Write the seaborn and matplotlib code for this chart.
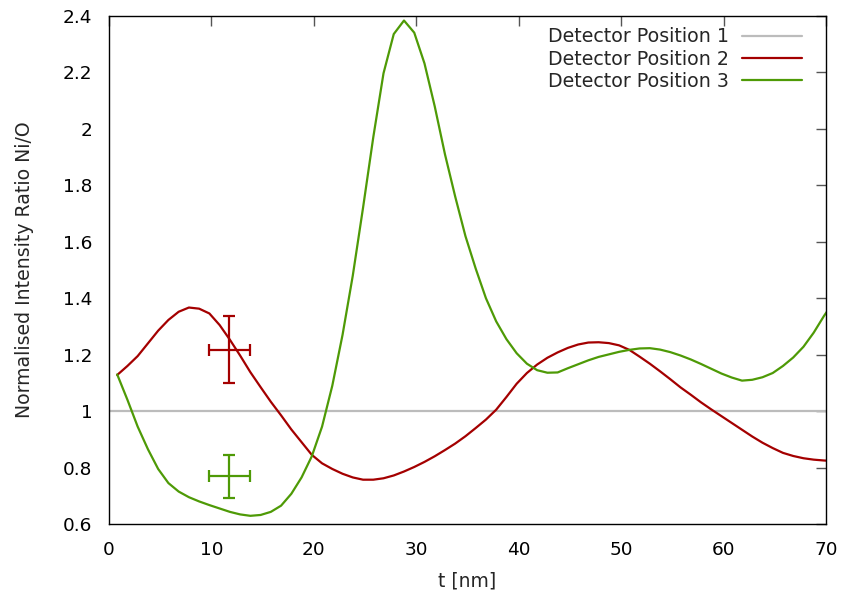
import numpy as np
import pandas as pd
import matplotlib
matplotlib.use("Agg")
import matplotlib.pyplot as plt
from matplotlib.ticker import FuncFormatter, FixedLocator
import seaborn as sns

# Sampling grid of the simulated depth profiles (nm)
t_nm = [0.8 + k for k in range(71)]

# Detector position 2
ratio_pos2 = [
    1.128, 1.160, 1.195, 1.240, 1.285, 1.323, 1.352, 1.367, 1.363, 1.346,
    1.305, 1.253, 1.197, 1.138, 1.085, 1.033, 0.985, 0.935, 0.890, 0.845,
    0.815, 0.795, 0.778, 0.765, 0.757, 0.757, 0.762, 0.772, 0.786, 0.802,
    0.820, 0.840, 0.862, 0.885, 0.911, 0.940, 0.970, 1.005, 1.050, 1.097,
    1.135, 1.165, 1.189, 1.208, 1.224, 1.236, 1.243, 1.244, 1.241, 1.233,
    1.217, 1.193, 1.168, 1.141, 1.113, 1.084, 1.058, 1.031, 1.006, 0.982,
    0.958, 0.934, 0.910, 0.888, 0.869, 0.852, 0.841, 0.833, 0.828, 0.825,
    0.823,
]

# Detector position 3
ratio_pos3 = [
    1.130, 1.040, 0.945, 0.865, 0.795, 0.745, 0.715, 0.695, 0.680, 0.667,
    0.655, 0.643, 0.634, 0.629, 0.632, 0.643, 0.665, 0.707, 0.765, 0.840,
    0.945, 1.090, 1.270, 1.480, 1.720, 1.970, 2.197, 2.336, 2.384, 2.341,
    2.232, 2.080, 1.910, 1.760, 1.620, 1.505, 1.400, 1.318, 1.255, 1.205,
    1.168, 1.145, 1.136, 1.137, 1.152, 1.166, 1.180, 1.192, 1.201, 1.210,
    1.217, 1.222, 1.223, 1.218, 1.209, 1.197, 1.183, 1.167, 1.150, 1.133,
    1.119, 1.108, 1.111, 1.120, 1.135, 1.160, 1.190, 1.228, 1.278, 1.337,
    1.390,
]

# Detector position 1 (reference level)
t_ref = [0.0, 70.0]
ratio_ref = [1.0, 1.0]

# Measured points with uncertainties
meas_t = [11.75, 11.75]
meas_ratio = [1.218, 0.769]
meas_dt = [2.0, 2.0]
meas_dratio = [0.119, 0.077]

labels = ["Detector Position 1", "Detector Position 2", "Detector Position 3"]
colors = ["#bcbcbc", "#a40000", "#4e9a06"]

df = pd.concat([
    pd.DataFrame({"t": t_ref, "ratio": ratio_ref, "series": labels[0]}),
    pd.DataFrame({"t": t_nm, "ratio": ratio_pos2, "series": labels[1]}),
    pd.DataFrame({"t": t_nm, "ratio": ratio_pos3, "series": labels[2]}),
], ignore_index=True)

sns.set_style("white")
plt.rcParams["font.family"] = ["DejaVu Sans"]

fig = plt.figure(figsize=(8.43, 5.94), dpi=100)
ax = fig.add_axes([109 / 843, 1 - 524 / 594, 717 / 843, 508 / 594])

sns.lineplot(data=df, x="t", y="ratio", hue="series", hue_order=labels,
             palette=dict(zip(labels, colors)), linewidth=1.6, ax=ax,
             estimator=None, sort=False)

for i in range(2):
    ax.errorbar(meas_t[i], meas_ratio[i], xerr=meas_dt[i], yerr=meas_dratio[i],
                color=colors[i + 1], linewidth=1.6, capsize=4.5, capthick=1.6,
                fmt="none", zorder=5)

ax.set_xlim(0, 70)
ax.set_ylim(0.6, 2.4)
ax.xaxis.set_major_locator(FixedLocator(np.arange(0, 71, 10)))
ax.yaxis.set_major_locator(FixedLocator(np.round(np.arange(0.6, 2.41, 0.2), 1)))
fmt = FuncFormatter(lambda v, p: "%g" % round(v, 2))
ax.xaxis.set_major_formatter(fmt)
ax.yaxis.set_major_formatter(fmt)
ax.tick_params(direction="in", length=7, width=1, color="#555555",
               top=True, right=True, labelsize=13.3, labelcolor="black")
ax.tick_params(axis="y", pad=12)
ax.tick_params(axis="x", pad=12)
for s in ax.spines.values():
    s.set_visible(True)
    s.set_color("black")
    s.set_linewidth(1.0)

ax.set_xlabel("t [nm]", fontsize=13.5, labelpad=9)
ax.set_ylabel("Normalised Intensity Ratio Ni/O", fontsize=13.6, labelpad=21)

ax.legend(loc="upper right", bbox_to_anchor=(0.9665, 0.978), frameon=False,
          markerfirst=False, fontsize=13.7, handlelength=3.15, handletextpad=0.68,
          labelspacing=0.18, borderaxespad=0, borderpad=0)

fig.savefig("out.png", dpi=100)
